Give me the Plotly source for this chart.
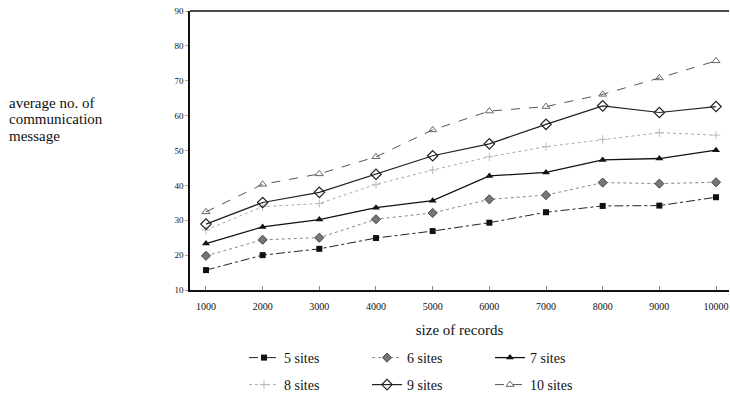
import plotly.graph_objects as go

x_records = [1000, 2000, 3000, 4000, 5000, 6000, 7000, 8000, 9000, 10000]
sites5 = [15.7, 20.0, 21.8, 24.9, 26.9, 29.3, 32.3, 34.1, 34.2, 36.6]
sites6 = [19.8, 24.4, 25.0, 30.3, 32.1, 36.0, 37.2, 40.8, 40.5, 40.9]
sites7 = [23.3, 28.1, 30.2, 33.6, 35.6, 42.7, 43.7, 47.3, 47.7, 50.1]
sites8 = [27.2, 33.9, 34.8, 40.3, 44.4, 48.2, 51.1, 53.2, 55.1, 54.4]
sites9 = [28.9, 35.1, 38.0, 43.2, 48.5, 51.9, 57.5, 62.8, 60.9, 62.6]
sites10 = [32.4, 40.3, 43.3, 48.2, 55.9, 61.3, 62.6, 66.1, 70.8, 75.7]
y_ticks = [10, 20, 30, 40, 50, 60, 70, 80, 90]
y_title_lines = ["average no. of", "communication", "message"]

series = [
    ("5 sites", sites5, dict(color="#222", width=1, dash="dashdot"),
     dict(symbol="square", size=6, color="#111"), "legend"),
    ("6 sites", sites6, dict(color="#888", width=1, dash="dot"),
     dict(symbol="diamond", size=7, color="#777", line=dict(color="#444", width=1)), "legend"),
    ("7 sites", sites7, dict(color="#111", width=1.3, dash="solid"),
     dict(symbol="triangle-up", size=7, color="#111"), "legend"),
    ("8 sites", sites8, dict(color="#aaa", width=1, dash="dot"),
     dict(symbol="cross-thin-open", size=6, color="#bbb", line=dict(color="#bbb", width=1)), "legend2"),
    ("9 sites", sites9, dict(color="#222", width=1.2, dash="solid"),
     dict(symbol="diamond-open", size=8, color="#222", line=dict(color="#222", width=1.2)), "legend2"),
    ("10 sites", sites10, dict(color="#555", width=1, dash="dash"),
     dict(symbol="triangle-up-open", size=7, color="#666", line=dict(color="#666", width=1)), "legend2"),
]

fig = go.Figure()
for name, vals, line, marker, lg in series:
    fig.add_trace(go.Scatter(x=x_records, y=vals, name=name, mode="lines+markers",
                             line=line, marker=marker, legend=lg))

font_serif = "Liberation Serif, Times New Roman, serif"

legend_common = dict(orientation="h", xref="container", yref="container",
                     x=244 / 730, xanchor="left", yanchor="middle",
                     entrywidth=78, itemwidth=30, font=dict(size=14, family=font_serif),
                     bgcolor="rgba(0,0,0,0)", borderwidth=0)

fig.update_layout(
    width=730, height=397,
    margin=dict(l=190, r=1, t=11, b=107, autoexpand=False),
    paper_bgcolor="white", plot_bgcolor="white",
    font=dict(family=font_serif, color="#111"),
    xaxis=dict(range=[718, 10229], tickvals=x_records,
               ticktext=[str(v) for v in x_records],
               showgrid=False, zeroline=False,
               showline=True, linecolor="#111", linewidth=1.5, mirror=False,
               ticks="inside", ticklen=4, tickcolor="#888",
               ticklabelstandoff=6,
               tickfont=dict(size=10, family=font_serif),
               title=dict(text="size of records", font=dict(size=15, family=font_serif), standoff=14)),
    yaxis=dict(range=[10, 90], tickvals=y_ticks, showgrid=False, zeroline=False,
               showline=True, linecolor="#111", linewidth=1.5,
               ticks="outside", ticklen=3, tickcolor="#aaa",
               tickfont=dict(size=9, family=font_serif)),
    legend=dict(legend_common, y=1 - 358 / 397),
    legend2=dict(legend_common, y=1 - 385 / 397),
    showlegend=True,
)

# top border line
fig.add_shape(type="line", xref="paper", yref="paper", x0=0, x1=1, y0=1, y1=1,
              line=dict(color="#111", width=1.5))

for i, txt in enumerate(y_title_lines):
    fig.add_annotation(xref="paper", yref="paper", x=-0.3377, y=(290 - (103 + 16.5 * i)) / 279,
                       xanchor="left", yanchor="middle", align="left", showarrow=False,
                       borderpad=0,
                       text=txt, font=dict(size=15, family=font_serif))

fig.write_html("out.html", config={"displayModeBar": False},
               post_script="document.body.style.margin='0';document.body.style.overflow='hidden';")
